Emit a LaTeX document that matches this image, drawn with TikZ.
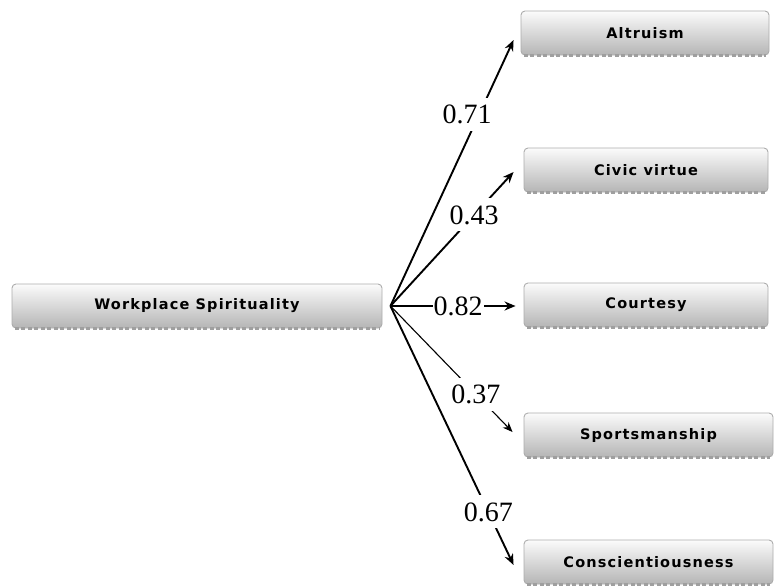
\documentclass[tikz,border=0pt]{standalone}
\usepackage{fontspec}
\setmainfont{Liberation Serif}
\newfontfamily\boxfont[LetterSpace=8]{DejaVu Sans Bold}
\usetikzlibrary{calc,arrows.meta}
\tikzset{
  varbox/.style={draw=gray!65, line width=0.9pt, rounded corners=4pt,
    top color=gray!3, bottom color=gray!58, minimum height=44pt,
    inner sep=0pt, font=\boxfont\fontsize{14.5}{16}\selectfont},
  linkarrow/.style={-{Stealth[length=11pt,width=9pt]}, line width=1.9pt},
  thinarrow/.style={-{Stealth[length=10pt,width=8pt]}, line width=1.1pt},
  coef/.style={fill=white, inner xsep=3pt, inner ysep=7pt, font=\fontsize{28}{30}\selectfont},
}
\newcommand{\bottomdash}[1]{%
  \draw[gray!75, line width=2.2pt, dash pattern=on 4pt off 2.5pt]
    ($(#1.south west)+(3,0)$) -- ($(#1.south east)+(-3,0)$);}
\begin{document}
\begin{tikzpicture}[x=1pt,y=-1pt]
\useasboundingbox (0,0) rectangle (775,587);
\node[varbox, minimum width=370pt] (ws) at (197,306) {Workplace Spirituality};
\node[varbox, minimum width=248pt] (alt) at (645,33) {Altruism};
\node[varbox, minimum width=244pt] (civ) at (646,170) {Civic virtue};
\node[varbox, minimum width=244pt] (cou) at (646,305) {Courtesy};
\node[varbox, minimum width=249pt] (spo) at (648.5,435) {Sportsmanship};
\node[varbox, minimum width=249pt] (con) at (648.5,562) {Conscientiousness};
\foreach \n in {ws,alt,civ,cou,spo,con} {\bottomdash{\n}}
\coordinate (o) at ($(ws.east)+(8,0)$);
\draw[linkarrow] (o) -- node[coef, pos=0.72, xshift=-12pt] {0.71} ($(alt.west)+(-7,7)$);
\draw[linkarrow] (o) -- node[coef, pos=0.68] {0.43} ($(civ.west)+(-10,2)$);
\draw[linkarrow] (o) -- node[coef, pos=0.54, inner xsep=1pt] {0.82} ($(cou.west)+(-8,1)$);
\draw[thinarrow] (o) -- node[coef, pos=0.70] {0.37} ($(spo.west)+(-11,-3)$);
\draw[linkarrow] (o) -- node[coef, pos=0.795] {0.67} ($(con.west)+(-10,3)$);
\end{tikzpicture}
\end{document}
